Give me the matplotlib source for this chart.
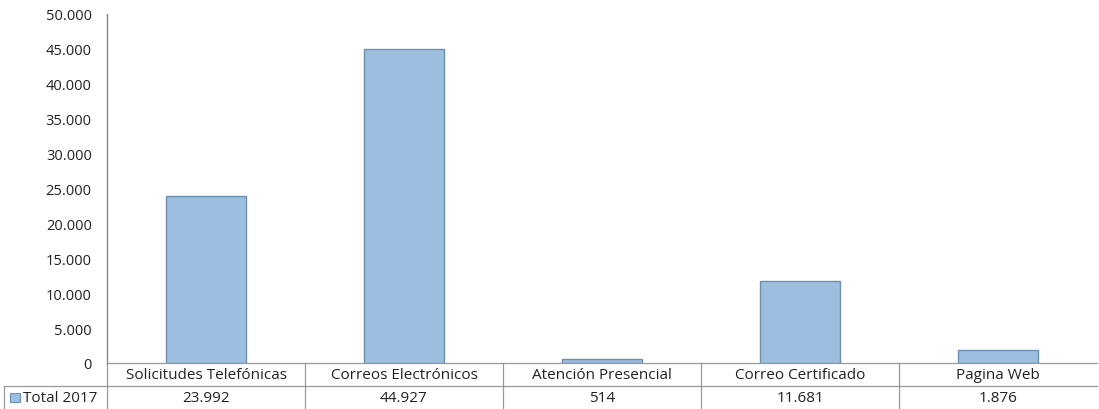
import matplotlib
matplotlib.use("Agg")
import matplotlib.pyplot as plt
from matplotlib.lines import Line2D
from matplotlib.patches import Rectangle

categories = ["Solicitudes Telefónicas", "Correos Electrónicos", "Atención Presencial",
              "Correo Certificado", "Pagina Web"]
values = [23992, 44927, 514, 11681, 1876]
value_labels = ["23.992", "44.927", "514", "11.681", "1.876"]
series_name = "Total 2017"
yticks = [0, 5000, 10000, 15000, 20000, 25000, 30000, 35000, 40000, 45000, 50000]
ytick_labels = ["0", "5.000", "10.000", "15.000", "20.000", "25.000", "30.000",
                "35.000", "40.000", "45.000", "50.000"]

plt.rcParams['font.family'] = ['Open Sans', 'DejaVu Sans']
W, H = 1099, 410
fig = plt.figure(figsize=(W / 100, H / 100), dpi=100)
ax = fig.add_axes([107 / W, (H - 364) / H, (1097 - 107) / W, (364 - 15) / H])

x = list(range(len(categories)))
ax.bar(x, values, width=0.4, color="#9DBFDF", edgecolor="#6F8FB0", linewidth=1.0)
ax.set_xlim(-0.5, len(categories) - 0.5)
ax.set_ylim(0, 50000)
ax.set_yticks(yticks)
ax.set_yticklabels(ytick_labels, fontsize=10.5, color="#222222")
ax.tick_params(axis='y', length=0, pad=11)
ax.set_xticks([])
for s in ["top", "right", "bottom"]:
    ax.spines[s].set_visible(False)
ax.spines["left"].set_color("#888888")
ax.spines["left"].set_linewidth(1.0)

line_c = "#999999"
def fx(px):
    return px / W
def fy(py):
    return 1 - py / H

fig.add_artist(Line2D([fx(107), fx(1097)], [fy(364), fy(364)], color=line_c, lw=0.9))
fig.add_artist(Line2D([fx(4), fx(1097)], [fy(387), fy(387)], color=line_c, lw=0.9))
fig.add_artist(Line2D([fx(107), fx(107)], [fy(364), fy(410)], color=line_c, lw=0.9))
fig.add_artist(Line2D([fx(4), fx(4)], [fy(387), fy(410)], color=line_c, lw=0.9))
cw = (1097 - 107) / len(categories)
for i in range(1, len(categories)):
    xp = 107 + i * cw
    fig.add_artist(Line2D([fx(xp), fx(xp)], [fy(364), fy(410)], color=line_c, lw=0.9))

for i, (c, v) in enumerate(zip(categories, value_labels)):
    xc = 107 + (i + 0.5) * cw
    fig.text(fx(xc), fy(376), c, ha="center", va="center", fontsize=11, color="#222222")
    fig.text(fx(xc), fy(399), v, ha="center", va="center", fontsize=11, color="#222222")

fig.add_artist(Rectangle((fx(10), fy(403)), 10 / W, 9 / H, facecolor="#9DBFDF",
                         edgecolor="#6F93BA", lw=0.8))
fig.text(fx(23), fy(399), series_name, ha="left", va="center", fontsize=11, color="#222222")

fig.savefig("out.png", dpi=100)
